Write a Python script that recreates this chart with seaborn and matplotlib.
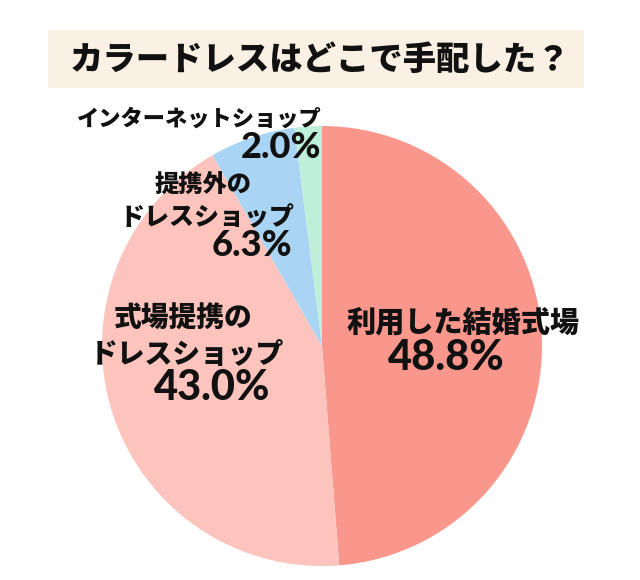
import matplotlib
matplotlib.use("Agg")
import matplotlib.pyplot as plt
import seaborn as sns
from matplotlib.patches import Rectangle

# data
categories = ["利用した結婚式場", "式場提携の\nドレスショップ", "提携外の\nドレスショップ", "インターネットショップ"]
values = [48.8, 43.0, 6.3, 2.0]
pct_labels = ["48.8%", "43.0%", "6.3%", "2.0%"]
colors = ["#F9978D", "#FDC4BD", "#A9D4F3", "#BDEFD9"]
title = "カラードレスはどこで手配した？"

sns.set_theme(style="white")
plt.rcParams['font.family'] = ['Noto Sans CJK JP', 'DejaVu Sans']

W, H = 640, 580
fig = plt.figure(figsize=(W / 100, H / 100), dpi=100)
fig.patch.set_facecolor("white")

# pie centre (322, 346) px, radius 220 px
cx, cy, r = 322, 346, 220
ax = fig.add_axes([(cx - r) / W, (H - cy - r) / H, 2 * r / W, 2 * r / H])
ax.pie(values, colors=colors, startangle=90, counterclock=False,
       radius=1, wedgeprops=dict(linewidth=0))
ax.set_xlim(-1, 1)
ax.set_ylim(-1, 1)
ax.set_aspect("equal")
ax.axis("off")


def px(x, y):
    # pixel -> data coords of the pie axes
    return (x - cx) / r, (cy - y) / r


# title box
fig.patches.append(Rectangle((48 / W, 1 - 88 / H), (584 - 48) / W, 58 / H,
                             transform=fig.transFigure, facecolor="#FBF0E4",
                             edgecolor="none", zorder=0))
fig.text(320 / W, 1 - 59 / H, title, ha="center", va="center",
         fontsize=24, fontweight=900, color="#111111")

# labels
def lab(x, y, s, size, ha="center"):
    ax.text(*px(x, y), s, ha=ha, va="center", fontsize=size,
            fontweight=900, color="#111111", clip_on=False)

def num(x, y, s, size, ha="center"):
    ax.text(*px(x, y), s, ha=ha, va="center", fontsize=size,
            fontweight=900, color="#111111", clip_on=False,
            family=['Lato', 'DejaVu Sans'])

lab(463, 323, "利用した結婚式場", 21)
num(446, 358, pct_labels[0], 30)

lab(183, 318, "式場提携の", 20)
lab(187, 355, "ドレスショップ", 20)
num(212, 388, pct_labels[1], 30)

lab(203, 185, "提携外の", 17.5)
lab(207, 217, "ドレスショップ", 18)
num(252, 245, pct_labels[2], 26)

lab(199, 119, "インターネットショップ", 16)
num(321, 148, pct_labels[3], 26, ha="right")

fig.savefig("out.png", dpi=100, facecolor="white")
